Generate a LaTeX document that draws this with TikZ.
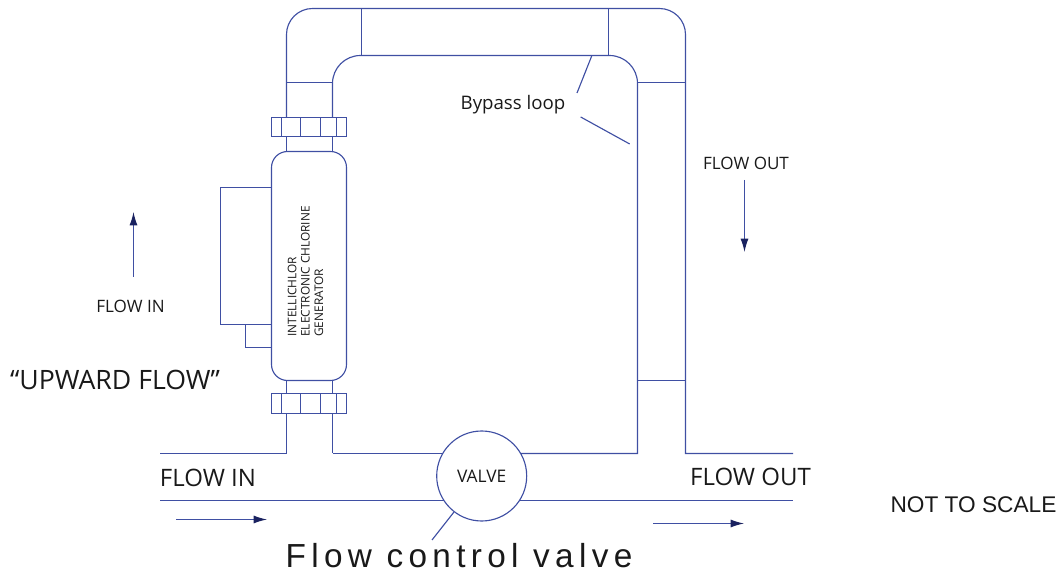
\documentclass[tikz,border=0pt]{standalone}
\usepackage{fontspec}
\setmainfont{Open Sans}
\newfontfamily\arialf{Liberation Sans}
\newfontfamily\arialsp[LetterSpace=16]{Liberation Sans}
\usetikzlibrary{arrows.meta}
\definecolor{pipe}{HTML}{3F4FA3}
\definecolor{tipc}{HTML}{1A2260}
\tikzset{
  pipeline/.style={draw=pipe,line width=0.85pt},
  flowarrow/.style={draw=pipe,line width=0.85pt,-{Latex[length=10pt,width=6pt,color=tipc]}},
  lbl/.style={inner sep=0pt,text=black!90,font=\fontsize{#1}{#1}\selectfont},
  lbl/.default=9
}
\begin{document}
\begin{tikzpicture}[x=0.75pt,y=-0.75pt]
\useasboundingbox (0,0) rectangle (1061,573);
% loop
\draw[pipeline,rounded corners=19.5pt] (286.5,117.5) -- (286.5,8.5) -- (685.5,8.5) [sharp corners] -- (685.5,453.5) -- (793,453.5);
\draw[pipeline,rounded corners=21pt] (332.5,117.5) -- (332.5,55.5) -- (637.5,55.5) [sharp corners] -- (637.5,453.5) -- (520.8,453.5);
\foreach \a/\b/\c/\d in {361.5/8.5/361.5/55.5,608.5/8.5/608.5/55.5,286.5/82.5/332.5/82.5,637.5/82.5/685.5/82.5,637.5/380.5/685.5/380.5}
  \draw[pipeline] (\a,\b) -- (\c,\d);
% nuts
\foreach \t/\b in {117.5/136.5,393.5/413.5}{
  \draw[pipeline] (271.5,\t) rectangle (346.5,\b);
  \foreach \x in {281.5,300.5,320.5,336.5} \draw[pipeline] (\x,\t) -- (\x,\b);
}
% short pipes around the body
\foreach \x in {286.5,332.5} {
  \draw[pipeline] (\x,136.5) -- (\x,151.5);
  \draw[pipeline] (\x,380.5) -- (\x,393.5);
  \draw[pipeline] (\x,413.5) -- (\x,453.5);
}
% generator body
\draw[pipeline,rounded corners=12pt] (271.5,151.5) rectangle (346.5,380.5);
\draw[pipeline] (271.5,187.5) -- (220.5,187.5) -- (220.5,324.5) -- (271.5,324.5);
\draw[pipeline] (271.5,324.5) -- (245.5,324.5) -- (245.5,347.5) -- (271.5,347.5);
\node[inner sep=0pt,text=black!90,rotate=90,align=left,font=\fontsize{8.9}{10}\selectfont] (gen) at (305.5,271.5) {INTELLICHLOR\\ELECTRONIC CHLORINE\\GENERATOR};
% lines through valve
\node[circle,draw=pipe,line width=0.85pt,minimum size=67.5pt,inner sep=0pt,text=black!90,font=\fontsize{13}{13}\selectfont] (valve) at (481.7,476) {VALVE};
\coordinate (inL) at (160,453.5);
\coordinate (inR) at (286.5,453.5);
\coordinate (upA) at (332.5,453.5);
\coordinate (upB) at (442.6,453.5);
\coordinate (loA) at (160,500.5);
\coordinate (loB) at (443.8,500.5);
\coordinate (loC) at (519.6,500.5);
\coordinate (loD) at (793,500.5);
\draw[pipeline] (inL) -- (inR);
\draw[pipeline] (upA) -- (upB);
\draw[pipeline] (loA) -- (loB);
\draw[pipeline] (loC) -- (loD);
% leaders
\coordinate (lvS) at (454,512);
\coordinate (lvE) at (432,540);
\draw[pipeline] (lvS) -- (lvE);
\coordinate (b1) at (591.7,56);
\coordinate (b2) at (577,93);
\coordinate (b3) at (580.7,117);
\coordinate (b4) at (629.7,144);
\draw[pipeline] (b1) -- (b2);
\draw[pipeline] (b3) -- (b4);
% arrows
\coordinate (a1s) at (133.5,277); \coordinate (a1e) at (133.5,212);
\coordinate (a2s) at (744.5,180); \coordinate (a2e) at (744.5,252);
\coordinate (a3s) at (176,519.5); \coordinate (a3e) at (267,519.5);
\coordinate (a4s) at (653,523.5); \coordinate (a4e) at (744,523.5);
\draw[flowarrow] (a1s) -- (a1e);
\draw[flowarrow] (a2s) -- (a2e);
\draw[flowarrow] (a3s) -- (a3e);
\draw[flowarrow] (a4s) -- (a4e);
% labels
\node[lbl=14] (bp) at (513,104.5) {Bypass loop};
\node[lbl=12.8] (fo1) at (746,163) {FLOW OUT};
\node[lbl=12.8] (fi1) at (130.5,306) {FLOW IN};
\node[lbl=20] (up) at (115,380) {“UPWARD FLOW”};
\node[lbl=18] (fi2) at (208,478) {FLOW IN};
\node[lbl=18] (fo2) at (750.5,477) {FLOW OUT};
\node[lbl=17,font=\arialf\fontsize{17}{17}\selectfont] (nts) at (973.5,505) {NOT TO SCALE};
\node[lbl=25,font=\arialsp\fontsize{25}{25}\selectfont] (fcv) at (459,556) {Flow control valve};
\end{tikzpicture}
\end{document}
